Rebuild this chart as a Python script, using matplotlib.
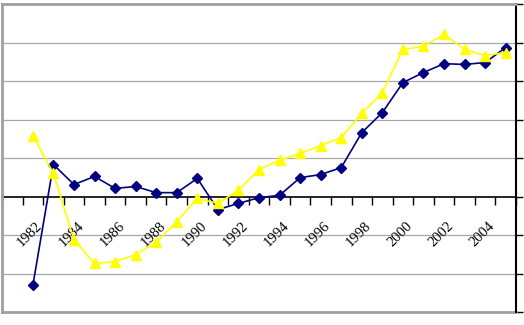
import matplotlib
matplotlib.use('Agg')
import matplotlib.pyplot as plt
import numpy as np
from matplotlib.transforms import ScaledTranslation

# data (1980 has no value)
years = list(range(1980, 2005))
blue = [np.nan, -2.31, 0.83, 0.31, 0.52, 0.21, 0.26, 0.10, 0.10, 0.47, -0.34,
        -0.18, -0.03, 0.03, 0.49, 0.57, 0.75, 1.66, 2.18, 2.96, 3.22, 3.45,
        3.43, 3.48, 3.87]
yellow = [np.nan, 1.58, 0.60, -1.12, -1.74, -1.69, -1.51, -1.19, -0.65, -0.05,
          -0.18, 0.16, 0.70, 0.94, 1.12, 1.32, 1.53, 2.16, 2.70, 3.82, 3.90,
          4.21, 3.82, 3.66, 3.74]
label_years = years[::2]

plt.rcParams['font.family'] = 'Liberation Serif'

fig = plt.figure(figsize=(5.24, 3.25), dpi=100)
ax = fig.add_axes([2/524, 13/325, 514/524, 308/325])

x = np.arange(len(years))
ax.set_xlim(-0.5, len(years) - 0.5)
ax.set_ylim(-3, 5)

# gridlines
for g in [-2, -1, 1, 2, 3, 4]:
	ax.axhline(g, color='#a8a8a8', lw=0.9, zorder=1)

ax.plot(x, blue, color='#000080', lw=1.2, marker='D', ms=5.5,
        mec='#000080', mfc='#000080', zorder=3)
ax.plot(x, yellow, color='#ffff00', lw=1.2, marker='^', ms=7,
        mec='#ffff00', mfc='#ffff00', zorder=4)

# borders
ax.spines['left'].set_color('#a0a0a0')
ax.spines['left'].set_linewidth(2)
ax.spines['top'].set_color('#a0a0a0')
ax.spines['top'].set_linewidth(2)
ax.spines['right'].set_color('black')
ax.spines['right'].set_linewidth(1.5)
ax.spines['bottom'].set_position(('data', 0))
ax.spines['bottom'].set_color('black')
ax.spines['bottom'].set_linewidth(1.2)
ax.spines['bottom'].set_zorder(2)
ax.axhline(-3, color='#a0a0a0', lw=2, clip_on=False, zorder=2)

# category boundary ticks on the zero axis
ax.set_xticks(np.arange(-0.5, len(years), 1.0))
ax.set_xticklabels([])
ax.tick_params(axis='x', direction='out', length=6, width=1, color='black')

# value axis on the right, labels cut off
ax.yaxis.tick_right()
ax.set_yticks(np.arange(-3, 6, 1))
ax.set_yticklabels([])
ax.tick_params(axis='y', direction='out', length=5, width=1, color='black')
ax.tick_params(axis='y', left=False)

off = ScaledTranslation(-0.13, -0.275, fig.dpi_scale_trans)
for yr in label_years:
	i = years.index(yr)
	ax.text(i, 0, str(yr), rotation=45, rotation_mode='anchor',
	        ha='right', va='center', fontsize=10.5,
	        transform=ax.transData + off, clip_on=False)

plt.savefig('out.png', dpi=100)
